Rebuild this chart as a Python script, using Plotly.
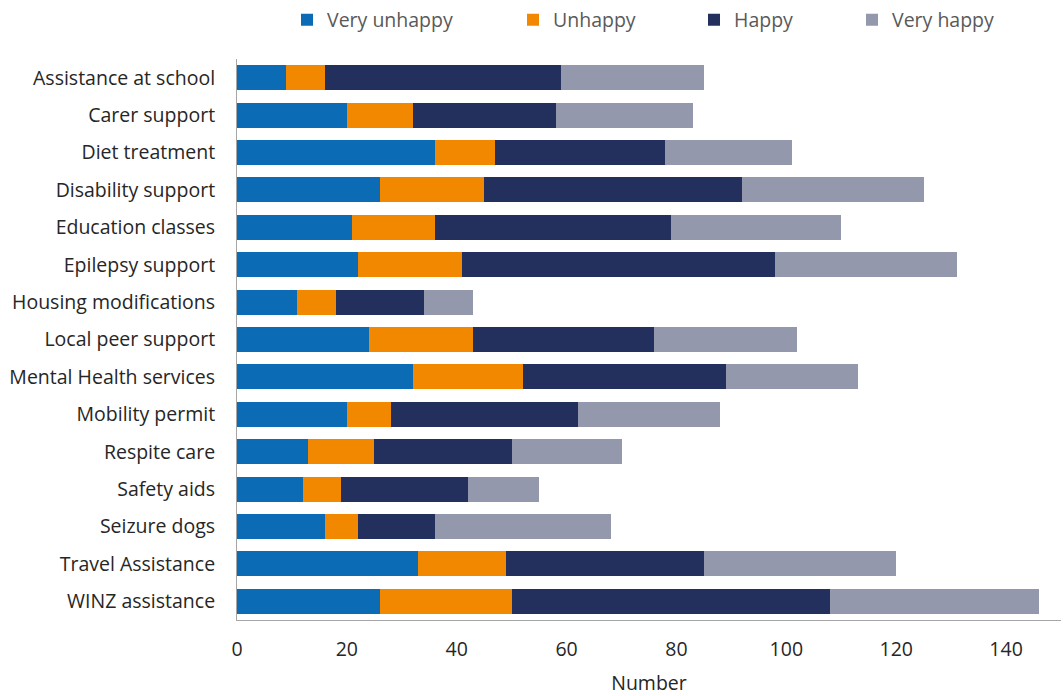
import plotly.graph_objects as go

services = [
    "Assistance at school", "Carer support", "Diet treatment", "Disability support",
    "Education classes", "Epilepsy support", "Housing modifications", "Local peer support",
    "Mental Health services", "Mobility permit", "Respite care", "Safety aids",
    "Seizure dogs", "Travel Assistance", "WINZ assistance",
]
very_unhappy = [9, 20, 36, 26, 21, 22, 11, 24, 32, 20, 13, 12, 16, 33, 26]
unhappy      = [7, 12, 11, 19, 15, 19, 7, 19, 20, 8, 12, 7, 6, 16, 24]
happy        = [43, 26, 31, 47, 43, 57, 16, 33, 37, 34, 25, 23, 14, 36, 58]
very_happy   = [26, 25, 23, 33, 31, 33, 9, 26, 24, 26, 20, 13, 32, 35, 38]

x_ticks = [0, 20, 40, 60, 80, 100, 120, 140]

FONT = "Open Sans"
W, H = 1064, 696

series = [
    ("Very unhappy", very_unhappy, "#0C6BB5", "legend", 328),
    ("Unhappy", unhappy, "#F18800", "legend2", 554),
    ("Happy", happy, "#23305E", "legend3", 735),
    ("Very happy", very_happy, "#9398AD", "legend4", 893),
]

fig = go.Figure()
for name, vals, color, leg, _ in series:
    fig.add_trace(go.Bar(
        y=services, x=vals, name=name, orientation="h",
        marker=dict(color=color, line=dict(width=0)),
        legend=leg, hoverinfo="x+name",
    ))

legend_common = dict(
    orientation="h", xref="container", yref="container",
    xanchor="left", yanchor="middle", y=1 - 20 / H,
    font=dict(family=FONT, size=19.5, color="#595959"),
    bgcolor="rgba(0,0,0,0)", borderwidth=0,
)
legends = {}
for _, _, _, leg, text_x in series:
    legends[leg] = dict(legend_common, x=(text_x - 41) / W)

fig.update_layout(
    width=W, height=H,
    margin=dict(l=237, r=3, t=59, b=76),
    barmode="stack", bargap=0.33,
    plot_bgcolor="white", paper_bgcolor="white",
    font=dict(family=FONT, size=19.5, color="#262626"),
    showlegend=True,
    **legends,
)
fig.update_xaxes(
    range=[0, 150], tickvals=x_ticks, showgrid=False, zeroline=False,
    showline=True, linecolor="#A6A6A6", linewidth=1,
    ticks="", ticklabelstandoff=12,
    tickfont=dict(family=FONT, size=19.5, color="#262626"),
    title=dict(text="Number", font=dict(family=FONT, size=19.5, color="#262626"), standoff=16),
)
fig.update_yaxes(
    autorange="reversed", showgrid=False, zeroline=False,
    showline=True, linecolor="#A6A6A6", linewidth=1,
    ticks="", ticklabelstandoff=17,
    tickfont=dict(family=FONT, size=19.5, color="#262626"),
)

fig.write_html("out.html")
